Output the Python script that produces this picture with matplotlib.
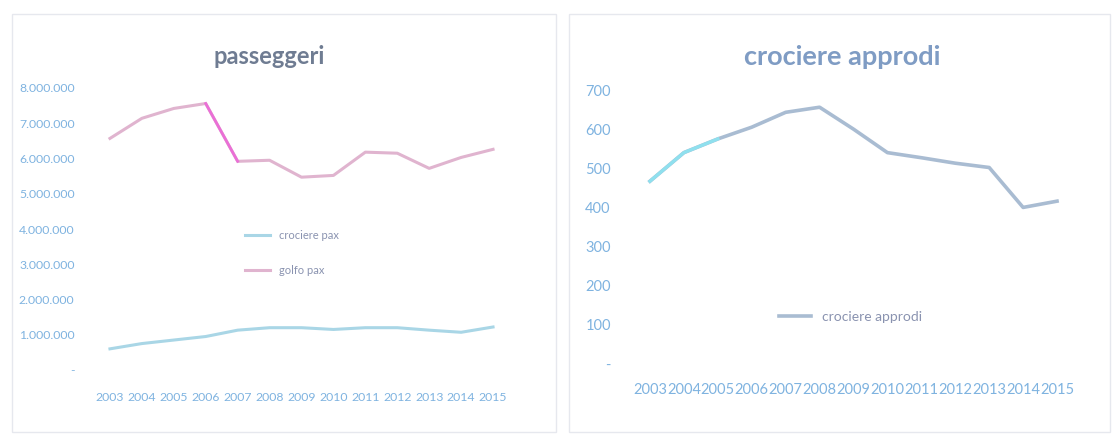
import matplotlib
matplotlib.use("Agg")
import matplotlib.pyplot as plt
from matplotlib.patches import Rectangle
from matplotlib.ticker import FuncFormatter, MultipleLocator

years = [2003, 2004, 2005, 2006, 2007, 2008, 2009, 2010, 2011, 2012, 2013, 2014, 2015]
year_labels = [str(y) for y in years]

# passenger traffic
crociere_pax = [600000, 750000, 850000, 950000, 1130000, 1200000, 1200000,
                1150000, 1200000, 1200000, 1130000, 1070000, 1220000]
golfo_pax = [6570000, 7140000, 7420000, 7560000, 5920000, 5950000, 5470000,
             5520000, 6180000, 6150000, 5720000, 6030000, 6260000]

# cruise ship calls
crociere_approdi = [467, 540, 575, 605, 643, 656, 600, 540, 527, 513, 502, 400, 416]

plt.rcParams['font.family'] = ['Lato', 'DejaVu Sans']

W, H = 1117, 441
fig = plt.figure(figsize=(W / 100, H / 100), dpi=100)
fig.patch.set_facecolor('white')

tick_col = '#7fb3e0'
title_col_l = '#6f7c92'
title_col_r = '#7f9cc4'
legend_col = '#8a93b0'

# chart-area frames
for x0, x1 in [(12, 556), (569, 1110)]:
    fig.add_artist(Rectangle((x0 / W, 1 - 432 / H), (x1 - x0) / W, (432 - 14) / H,
                             transform=fig.transFigure, fill=False,
                             edgecolor='#e6e8ee', linewidth=1.0))


def thousands(v, pos):
    if v == 0:
        return '-'
    return f"{int(round(v)):,}".replace(',', '.')


def style_axes(ax, size):
    for s in ax.spines.values():
        s.set_visible(False)
    ax.tick_params(length=0, colors=tick_col, labelsize=size)
    ax.set_facecolor('none')


idx = list(range(len(years)))

# left: passeggeri
axl = fig.add_axes([94 / W, 1 - 370 / H, (509 - 94) / W, (370 - 88) / H])
style_axes(axl, 8.8)
axl.plot(idx, crociere_pax, color='#a9d6e6', lw=2.2, label='crociere pax')
axl.plot(idx, golfo_pax, color='#e0b4cf', lw=2.2, label='golfo pax')
axl.plot(idx[3:5], golfo_pax[3:5], color='#ea6fd6', lw=2.0)
axl.set_xlim(-0.5, len(years) - 0.5)
axl.set_ylim(0, 8000000)
axl.yaxis.set_major_locator(MultipleLocator(1000000))
axl.yaxis.set_major_formatter(FuncFormatter(thousands))
axl.set_xticks(idx)
axl.set_xticklabels(year_labels)
axl.tick_params(axis='x', pad=16)
axl.tick_params(axis='y', pad=14)
axl.legend(loc='center', bbox_to_anchor=(292 / W, 1 - 253 / H),
           bbox_transform=fig.transFigure, frameon=False, fontsize=8,
           handlelength=2.2, labelspacing=2.2, labelcolor=legend_col)
fig.text(269 / W, 1 - 57 / H, 'passeggeri', ha='center', va='center',
         fontsize=17, fontweight='bold', color=title_col_l)

# right: crociere approdi
axr = fig.add_axes([633 / W, 1 - 364 / H, (1074 - 633) / W, (364 - 90) / H])
style_axes(axr, 10.5)
axr.plot(idx, crociere_approdi, color='#a9bcd2', lw=2.6, label='crociere approdi')
axr.plot(idx[:3], crociere_approdi[:3], color='#8fe0ee', lw=2.4)
axr.set_xlim(-0.5, len(years) - 0.5)
axr.set_ylim(0, 700)
axr.yaxis.set_major_locator(MultipleLocator(100))
axr.yaxis.set_major_formatter(FuncFormatter(thousands))
axr.set_xticks(idx)
axr.set_xticklabels(year_labels)
axr.tick_params(axis='x', pad=14)
axr.tick_params(axis='y', pad=16)
axr.legend(loc='center', bbox_to_anchor=(851 / W, 1 - 317 / H),
           bbox_transform=fig.transFigure, frameon=False, fontsize=10,
           handlelength=2.3, labelcolor=legend_col)
fig.text(842 / W, 1 - 57 / H, 'crociere approdi', ha='center', va='center',
         fontsize=19.5, fontweight='bold', color=title_col_r)

fig.savefig('out.png', dpi=100, facecolor='white')
